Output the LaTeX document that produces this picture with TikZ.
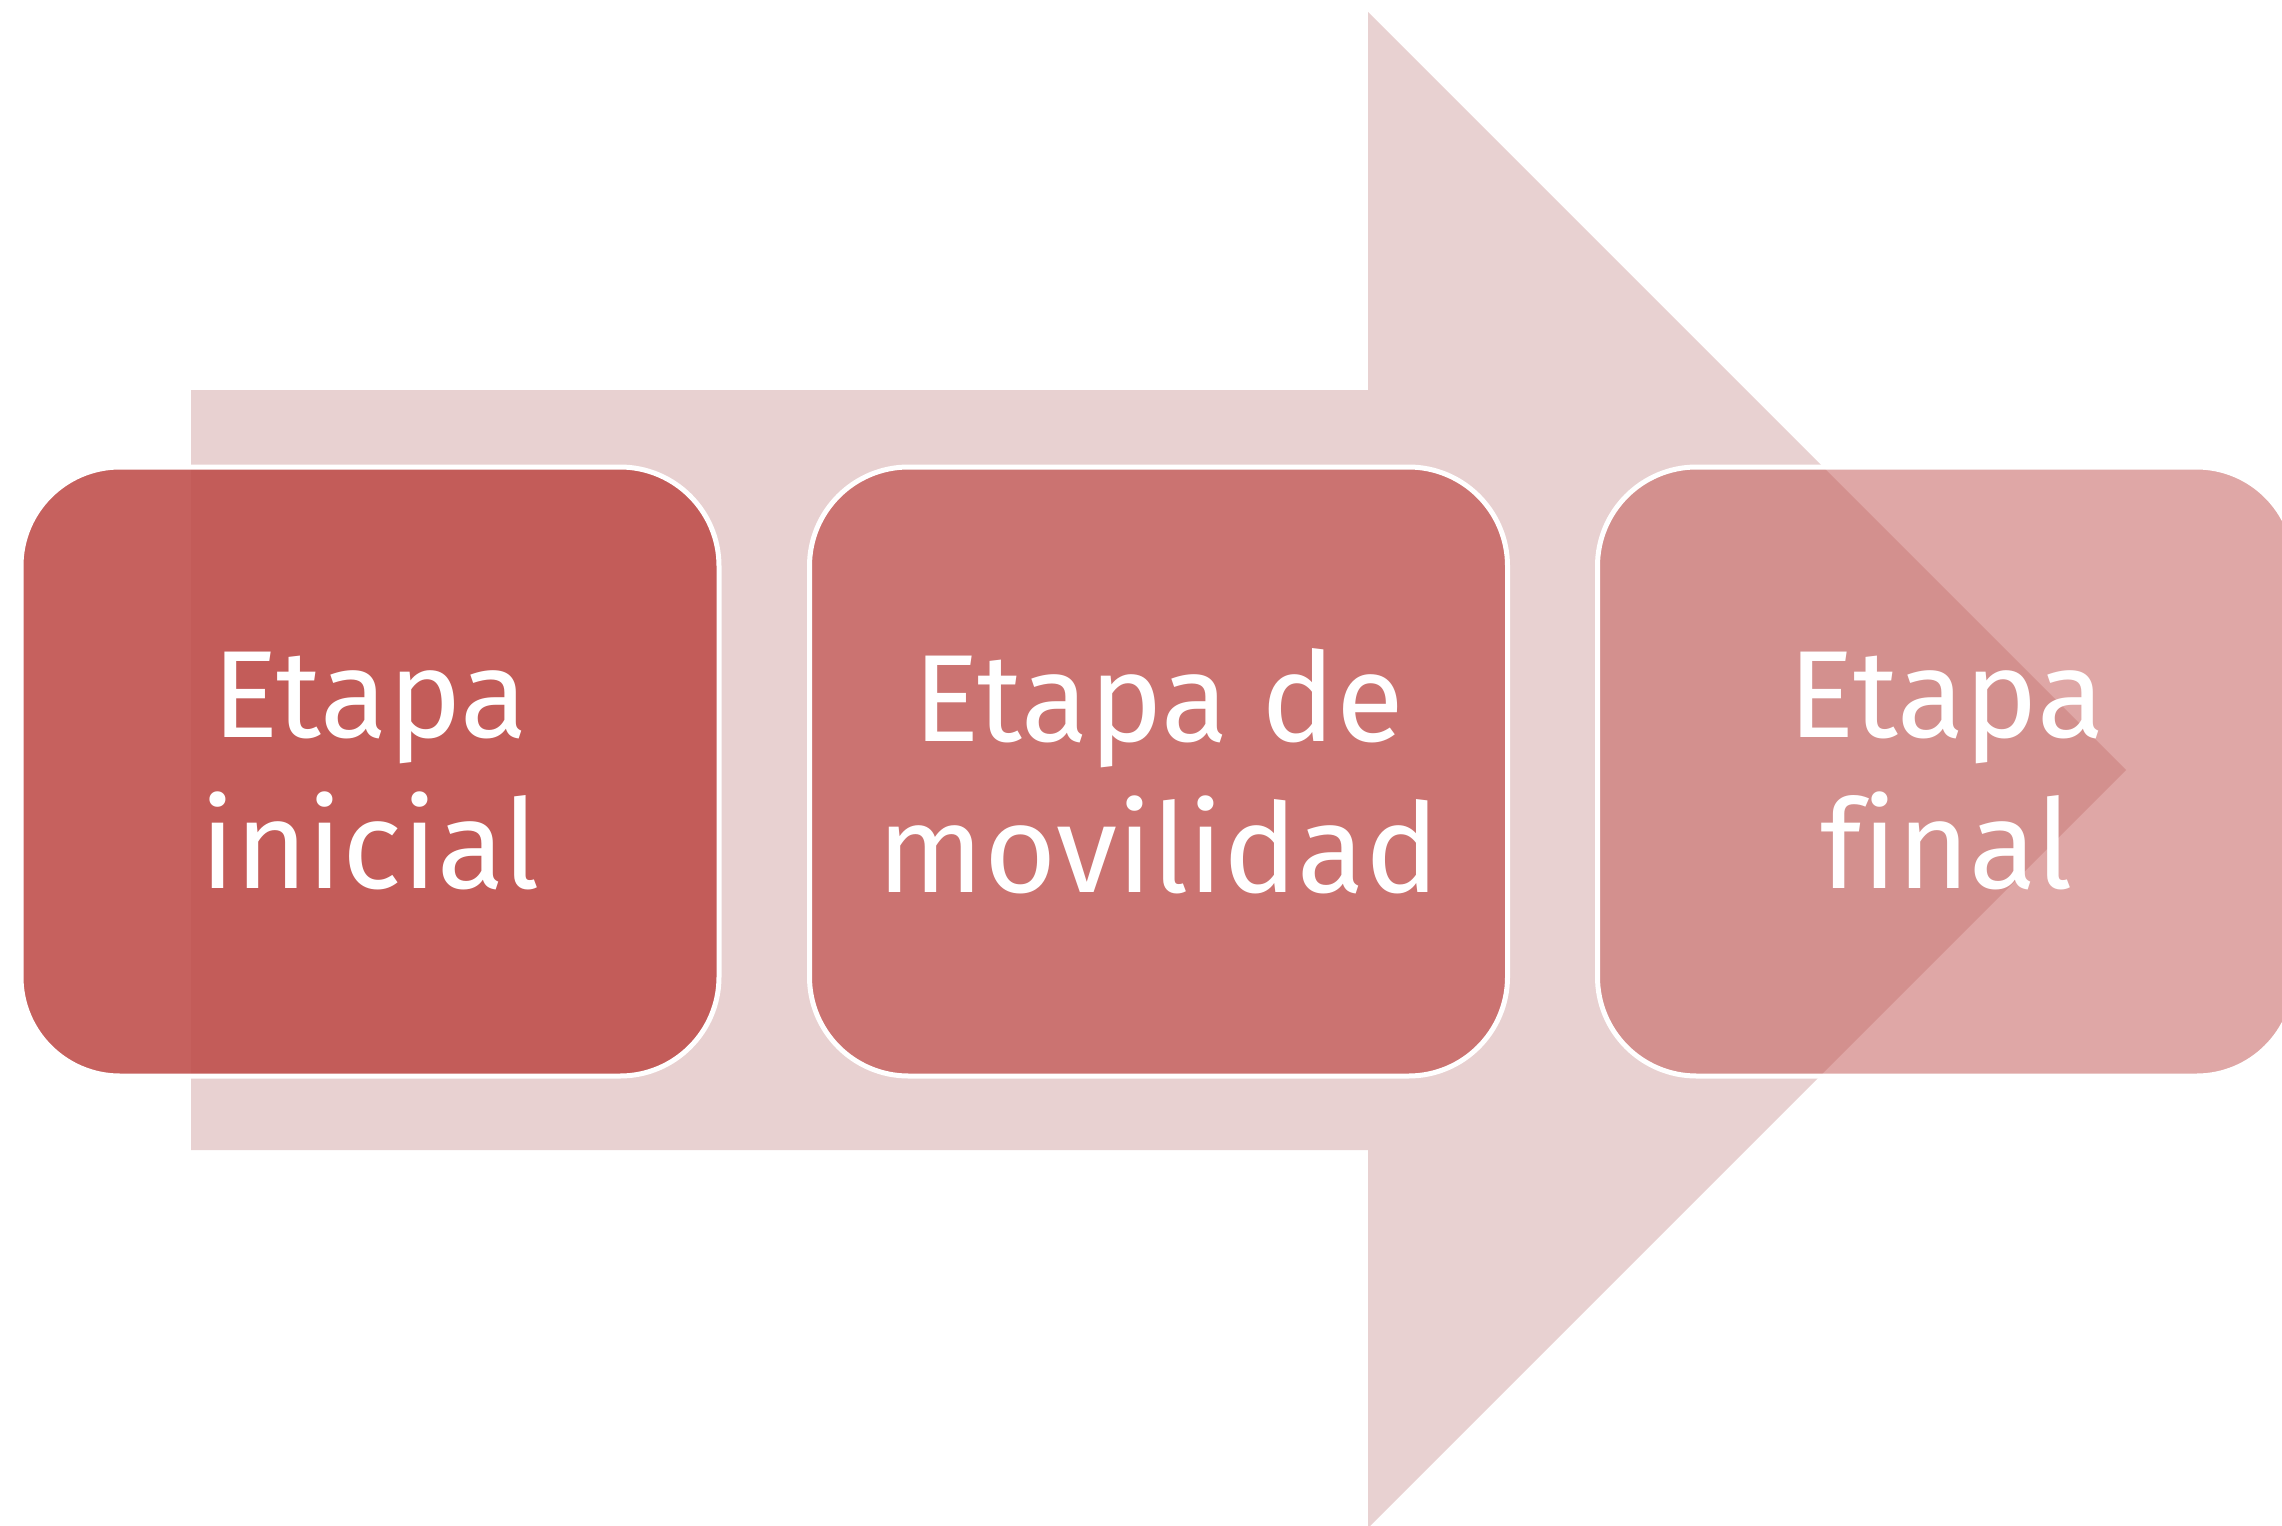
\documentclass[tikz,border=0pt]{standalone}
\usepackage{fontspec}
\setmainfont{Fira Sans}[Ligatures=CommonOff]
\definecolor{arrowc}{HTML}{E8D1D1}
\definecolor{boxc}{HTML}{C0504D}
\begin{document}
\begin{tikzpicture}[x=1pt,y=-1pt,
  stagebox/.style={draw=white, line width=5pt, fill=boxc, rounded corners=99pt,
    minimum width=698pt, minimum height=609pt, inner sep=0pt,
    text=white, align=center, font=\fontsize{124}{151}\selectfont},
  bigarrow/.style={fill=arrowc}]
\useasboundingbox (0,0) rectangle (2282,1525);
\clip (0,0) rectangle (2282,1525);
\path[bigarrow] (191,390) -- (1368,390) -- (1368,12) -- (2126,770) -- (1368,1528) -- (1368,1150) -- (191,1150) -- cycle;
\node[stagebox, fill opacity=0.9, text opacity=1] (b1) at (370,771.5) {Etapa\\inicial};
\node[stagebox, fill opacity=0.72, text opacity=1] (b2) at (1158.5,771.5) {Etapa de\\movilidad};
\node[stagebox, fill opacity=0.5, text opacity=1] (b3) at (1946.5,771.5) {Etapa\\final};
\end{tikzpicture}
\end{document}
